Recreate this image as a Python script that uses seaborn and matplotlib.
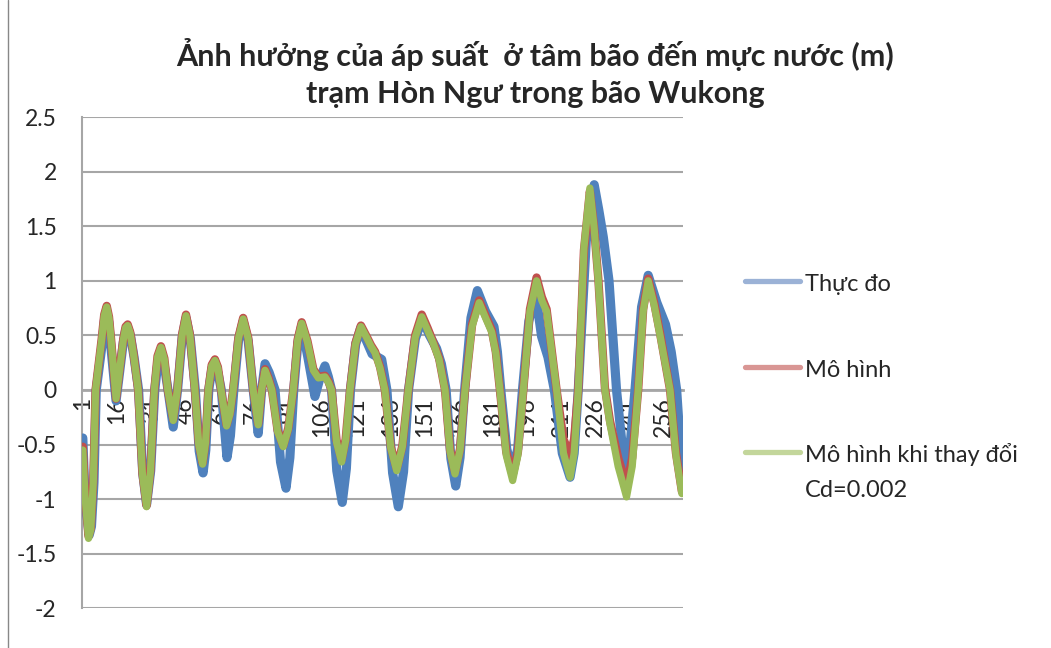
import numpy as np
import matplotlib
matplotlib.use("Agg")
import matplotlib.pyplot as plt
from matplotlib.lines import Line2D
import seaborn as sns

sns.set_style("white")
plt.rcParams['font.family'] = ['Lato', 'Noto Sans', 'DejaVu Sans']

title_1 = "Ảnh hưởng của áp suất  ở tâm bão đến mực nước (m)"
title_2 = "trạm Hòn Ngư trong bão Wukong"
series_names = ["Thực đo", "Mô hình", "Mô hình khi thay đổi\nCd=0.002"]

n_points = 264
x_tick_labels = list(range(1, 257, 15))
y_ticks = [-2, -1.5, -1, -0.5, 0, 0.5, 1, 1.5, 2, 2.5]

obs_x = [1, 2, 3.8, 4.8, 5.9, 6.9, 9.5, 10.5, 11.4, 12.4, 13.3, 15.6, 18.8, 19.8,
         20.7, 21.9, 23.5, 25.5, 27.3, 29, 30.8, 32.6, 34, 35.3, 36.8, 38.4,
         40.7, 42.6, 44.6, 46.3, 48.2, 50.4, 52.1, 53.8, 55, 56.3, 57.7, 59,
         60.4, 61.8, 64.3, 65.8, 67.3, 69.4, 71.4, 73.6, 75.8, 78, 79.5, 81,
         82.8, 85.4, 87.8, 90.2, 91.9, 93.6, 95.4, 97.1, 99.8, 102.9, 105, 107.3,
         108.8, 110.2, 112.5, 114.9, 116.7, 118.5, 120.8, 123, 125.5, 128, 132.2,
         134.5, 137, 139.5, 141.8, 144, 147, 150, 153.2, 156.3, 158.4, 160.5,
         162.6, 164.7, 166.6, 168.6, 171.4, 174.2, 177.8, 181.5, 183, 184.5,
         187.1, 189.7, 191.9, 194, 196.8, 199.5, 201, 202.4, 205.2, 208, 211.5,
         214.9, 216.7, 218.5, 222, 225.5, 227.5, 229.5, 232, 235.3, 237.5, 239.7,
         241.5, 243.4, 246.3, 249.2, 253, 256.8, 259.3, 261.7, 264]
obs_y = [-0.44, -1.0, -1.33, -1.25, -0.85, 0.0, 0.42, 0.64, 0.72, 0.62, 0.40,
         -0.10, 0.44, 0.55, 0.57, 0.50, 0.30, 0.0, -0.76, -1.05, -0.74, 0.0, 0.26,
         0.35, 0.22, 0.0, -0.34, 0.0, 0.48, 0.66, 0.47, 0.0, -0.56, -0.76, -0.55,
         0.0, 0.20, 0.25, 0.15, 0.0, -0.62, -0.42, 0.0, 0.46, 0.63, 0.45, 0.0,
         -0.40, 0.0, 0.24, 0.16, 0.0, -0.66, -0.90, -0.62, 0.0, 0.43, 0.59, 0.30,
         -0.06, 0.10, 0.22, 0.12, 0.0, -0.74, -1.03, -0.72, 0.0, 0.42, 0.57, 0.45,
         0.33, 0.28, 0.0, -0.76, -1.07, -0.75, 0.0, 0.47, 0.65, 0.50, 0.38, 0.24,
         0.0, -0.63, -0.88, -0.62, 0.0, 0.66, 0.91, 0.72, 0.58, 0.35, 0.0, -0.54,
         -0.76, -0.54, 0.0, 0.63, 0.87, 0.70, 0.49, 0.30, 0.0, -0.58, -0.80, -0.58,
         0.0, 1.36, 1.88, 1.65, 1.40, 1.0, 0.0, -0.45, -0.70, -0.45, 0.0, 0.76,
         1.05, 0.80, 0.60, 0.35, 0.0, -0.73]

# time steps shared by the two model runs
model_x = [1, 2, 3.5, 4.5, 5.6, 6.6, 9.3, 10.4, 11.5, 12.5, 13.4, 15.6, 18.8,
           19.8, 20.7, 21.8, 23.3, 25.3, 27.2, 29, 30.7, 32.4, 33.8, 35.3, 36.8,
           38.3, 40.7, 42.5, 44.6, 46.3, 48, 50.2, 51.9, 53.6, 54.9, 56.1, 57.6,
           59, 60.3, 61.7, 64.1, 65.6, 67, 69.3, 71.4, 73.6, 75.8, 78, 79.5, 81,
           82.5, 84, 86.5, 89, 91.2, 93.4, 95.3, 97.1, 99.6, 102.2, 104.4, 107.3,
           108.8, 110.2, 112.4, 114.6, 116.4, 118.3, 120.7, 123.1, 125.6, 127.5,
           129.3, 131.5, 133.6, 136.2, 138.8, 141.3, 143.9, 146.9, 149.8, 152.3,
           154.8, 157.4, 160, 162.2, 164.4, 166.6, 168.8, 171.9, 175, 177.8,
           180.5, 182.3, 184.1, 186.9, 189.7, 192, 194.4, 197.3, 200.2, 202.5,
           204.6, 209, 212, 214.9, 216.7, 218.5, 221, 223.6, 225.4, 227.3, 230.2,
           232.4, 236, 239.7, 242.2, 244.8, 247, 249.2, 251.8, 254.4, 258.8,
           261.4, 264]

# Mô hình (model)
mod_y = [-0.52, -0.96, -1.34, -1.27, -0.84, 0.0, 0.47, 0.69, 0.77, 0.67, 0.47,
         -0.08, 0.47, 0.58, 0.60, 0.53, 0.33, 0.0, -0.77, -1.06, -0.74, 0.0, 0.31,
         0.40, 0.29, 0.0, -0.27, 0.0, 0.51, 0.69, 0.51, 0.0, -0.49, -0.67, -0.47,
         0.0, 0.23, 0.28, 0.21, 0.0, -0.32, -0.21, 0.0, 0.48, 0.66, 0.48, 0.0,
         -0.31, 0.0, 0.19, 0.11, 0.0, -0.37, -0.51, -0.35, 0.0, 0.46, 0.62, 0.45,
         0.19, 0.12, 0.13, 0.08, 0.0, -0.46, -0.64, -0.45, 0.0, 0.43, 0.59, 0.49,
         0.41, 0.35, 0.21, 0.0, -0.52, -0.72, -0.51, 0.0, 0.50, 0.69, 0.57, 0.44,
         0.29, 0.0, -0.55, -0.75, -0.54, 0.0, 0.60, 0.82, 0.68, 0.55, 0.35, 0.0,
         -0.57, -0.78, -0.57, 0.0, 0.74, 1.03, 0.85, 0.74, 0.0, -0.45, -0.60,
         -0.45, 0.0, 1.28, 1.82, 1.50, 1.02, 0.02, -0.28, -0.62, -0.88, -0.62,
         0.0, 0.74, 1.02, 0.80, 0.52, 0.0, -0.58, -0.93]

# Mô hình khi thay đổi Cd=0.002
cd_y = [-0.55, -0.98, -1.36, -1.28, -0.85, 0.0, 0.46, 0.68, 0.76, 0.66, 0.46,
        -0.08, 0.46, 0.57, 0.59, 0.52, 0.32, 0.0, -0.78, -1.07, -0.75, 0.0, 0.30,
        0.39, 0.28, 0.0, -0.28, 0.0, 0.50, 0.68, 0.50, 0.0, -0.50, -0.68, -0.48,
        0.0, 0.22, 0.27, 0.20, 0.0, -0.33, -0.22, 0.0, 0.47, 0.65, 0.47, 0.0,
        -0.32, 0.0, 0.18, 0.10, 0.0, -0.38, -0.52, -0.36, 0.0, 0.45, 0.61, 0.44,
        0.18, 0.11, 0.12, 0.07, 0.0, -0.48, -0.66, -0.46, 0.0, 0.42, 0.58, 0.48,
        0.40, 0.34, 0.20, 0.0, -0.53, -0.74, -0.52, 0.0, 0.48, 0.67, 0.55, 0.43,
        0.28, 0.0, -0.56, -0.77, -0.55, 0.0, 0.58, 0.80, 0.66, 0.53, 0.34, 0.0,
        -0.60, -0.83, -0.60, 0.0, 0.72, 1.00, 0.82, 0.72, 0.0, -0.58, -0.80,
        -0.58, 0.0, 1.30, 1.85, 1.50, 1.00, 0.0, -0.31, -0.70, -0.98, -0.70,
        0.0, 0.72, 1.00, 0.78, 0.50, 0.0, -0.60, -0.95]

line_colors = ['#4F81BD', '#C0504D', '#9BBB59']
legend_colors = ['#9BB2D6', '#D99694', '#C3D69B']
grid_gray = '#A6A6A6'

fig = plt.figure(figsize=(10.51, 6.48), dpi=100)
ax = fig.add_axes([0.0777, 0.0613, 0.5722, 0.7581])

sns.lineplot(x=obs_x, y=obs_y, ax=ax, color=line_colors[0], linewidth=6.6,
             sort=False, solid_joinstyle='round', solid_capstyle='round', zorder=3)
sns.lineplot(x=model_x, y=mod_y, ax=ax, color=line_colors[1], linewidth=6.0,
             sort=False, solid_joinstyle='round', solid_capstyle='round', zorder=4)
sns.lineplot(x=model_x, y=cd_y, ax=ax, color=line_colors[2], linewidth=5.2,
             sort=False, solid_joinstyle='round', solid_capstyle='round', zorder=5)

ax.set_xlim(0.5, n_points + 0.5)
ax.set_ylim(-2, 2.5)
ax.set_axisbelow(True)

ax.set_yticks(y_ticks)
ax.set_yticklabels([f"{v:g}" for v in y_ticks])
ax.yaxis.grid(True, color=grid_gray, linewidth=1.5)
ax.xaxis.grid(False)

ax.set_xticks(x_tick_labels)
ax.set_xticklabels([str(v) for v in x_tick_labels])
ax.set_xticks(np.arange(0.5, n_points + 1, 1), minor=True)

for side in ['top', 'right']:
    ax.spines[side].set_visible(False)
ax.spines['left'].set_color(grid_gray)
ax.spines['left'].set_linewidth(1.5)
ax.spines['bottom'].set_position(('data', 0))
ax.spines['bottom'].set_color(grid_gray)
ax.spines['bottom'].set_linewidth(2.0)

ax.tick_params(axis='y', which='major', length=6, width=1.5, color=grid_gray,
               labelsize=16.5, pad=12)
ax.tick_params(axis='x', which='major', length=0, labelsize=16.5, pad=5,
               labelrotation=90)
ax.tick_params(axis='x', which='minor', length=7, width=1.0, color=grid_gray,
               direction='inout')

fig.text(0.509, 1 - 66 / 648, title_1, ha='center', va='baseline',
         fontsize=22, fontweight='bold')
fig.text(0.509, 1 - 103 / 648, title_2, ha='center', va='baseline',
         fontsize=22, fontweight='bold')

# legend, laid out like the spreadsheet one (handle level with the first text line)
legend_rows = [281, 367, 452]
for name, col, ypix in zip(series_names, legend_colors, legend_rows):
    yf = 1 - ypix / 648
    fig.add_artist(Line2D([745 / 1051, 800 / 1051], [yf, yf], color=col,
                          linewidth=3.8, solid_capstyle='round'))
    for k, part in enumerate(name.split('\n')):
        fig.text(805 / 1051, 1 - (ypix + 10 + 35 * k) / 648, part,
                 ha='left', va='baseline', fontsize=17)

fig.add_artist(Line2D([8 / 1051, 8 / 1051], [0, 1], color='#888888', linewidth=1.0))

fig.savefig("out.png", dpi=100)
